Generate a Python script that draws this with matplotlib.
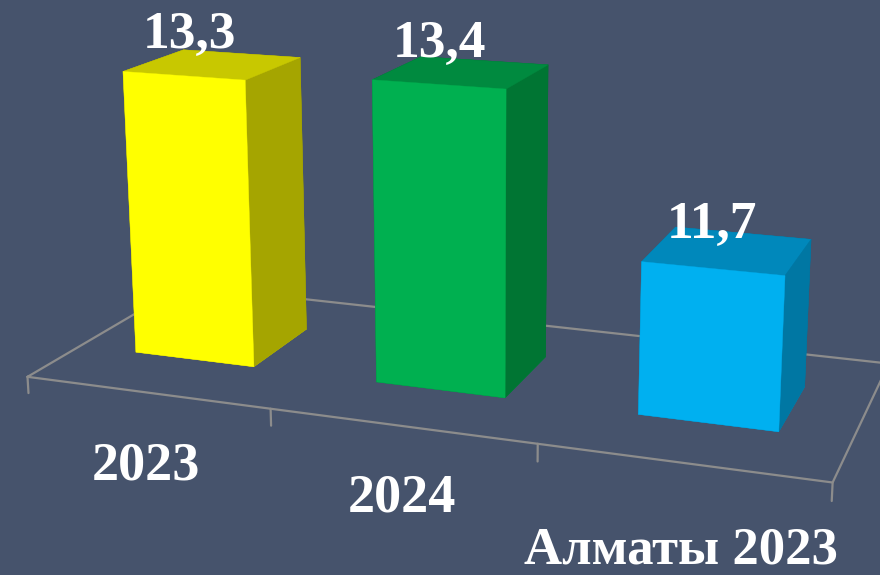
import numpy as np
import matplotlib
matplotlib.use('Agg')
import matplotlib.pyplot as plt

plt.rcParams['font.family'] = ['Liberation Serif', 'DejaVu Serif']

# Data
categories = ['2023', '2024', 'Алматы 2023']
values = [13.3, 13.4, 11.7]
value_labels = ['13,3', '13,4', '11,7']

# Style
BG = '#46536C'
GRID = '#8C8C8C'
front_colors = ['#FFFF00', '#00B050', '#00B0F0']
top_colors = ['#C8C800', '#008A3F', '#0088BB']
side_colors = ['#A5A500', '#007533', '#0077A3']
bar_left = [0.242, 1.248, 2.248]
bar_right = [0.7466, 1.7508, 2.7477]
depth = (0.31433, 0.70442)
Z_MIN, Z_MAX = 10.04, 13.96
W, H = 880, 575
label_size = 38.5
cat_sizes = [39, 39, 38]

fig = plt.figure(figsize=(W / 100, H / 100), dpi=100, facecolor=BG)

# Axes placement so the box projects where the reference has it
cx, cy, scale = 461.18, 199.49, np.exp(8.51682)
side = scale * 0.185
left = cx - 0.095 * scale
bottom = H - (cy + 0.095 * scale)
ax = fig.add_axes([left / W, bottom / H, side / W, side / H], projection='3d')
ax.patch.set_visible(False)
ax.set_axis_off()
ax.computed_zorder = False
ax.set_xlim(0, 3, view_margin=0)
ax.set_ylim(0, 1, view_margin=0)
ax.set_zlim(Z_MIN, Z_MAX, view_margin=0)
ax.view_init(elev=14.54703, azim=-69.88888, roll=0.14659)
ax.set_proj_type('persp', focal_length=np.exp(-0.92426))
ax.set_box_aspect((np.exp(0.81598), np.exp(-0.07483), 1))

# Floor and ticks
line = dict(color=GRID, lw=1.6, zorder=1, solid_capstyle='round')
ax.plot([0, 3, 3, 0, 0], [0, 0, 1, 1, 0], [Z_MIN] * 5, **line)
for tick in range(4):
    ax.plot([tick, tick], [0, 0], [Z_MIN, Z_MIN - 0.19], **line)

# Bars; bar3d face order is -z, +z, -y, +y, -x, +x
for i, v in enumerate(values):
    faces = [top_colors[i], top_colors[i], front_colors[i],
             side_colors[i], side_colors[i], side_colors[i]]
    ax.bar3d(bar_left[i], depth[0], Z_MIN,
             bar_right[i] - bar_left[i], depth[1] - depth[0], v - Z_MIN,
             color=faces, shade=False, edgecolor=faces, linewidth=0.3, zorder=2 + i)

# Text
txt = dict(color='white', fontweight='bold', ha='center', va='baseline')
label_pos = [(189, 48), (439, 57), (712, 238)]
for s, (x, y) in zip(value_labels, label_pos):
    fig.text(x / W, 1 - y / H, s, fontsize=label_size, **txt)
cat_pos = [(146, 479), (402, 512), (681, 563)]
for s, (x, y), fs in zip(categories, cat_pos, cat_sizes):
    fig.text(x / W, 1 - y / H, s, fontsize=fs, **txt)

fig.savefig('out.png', dpi=100, facecolor=BG)
